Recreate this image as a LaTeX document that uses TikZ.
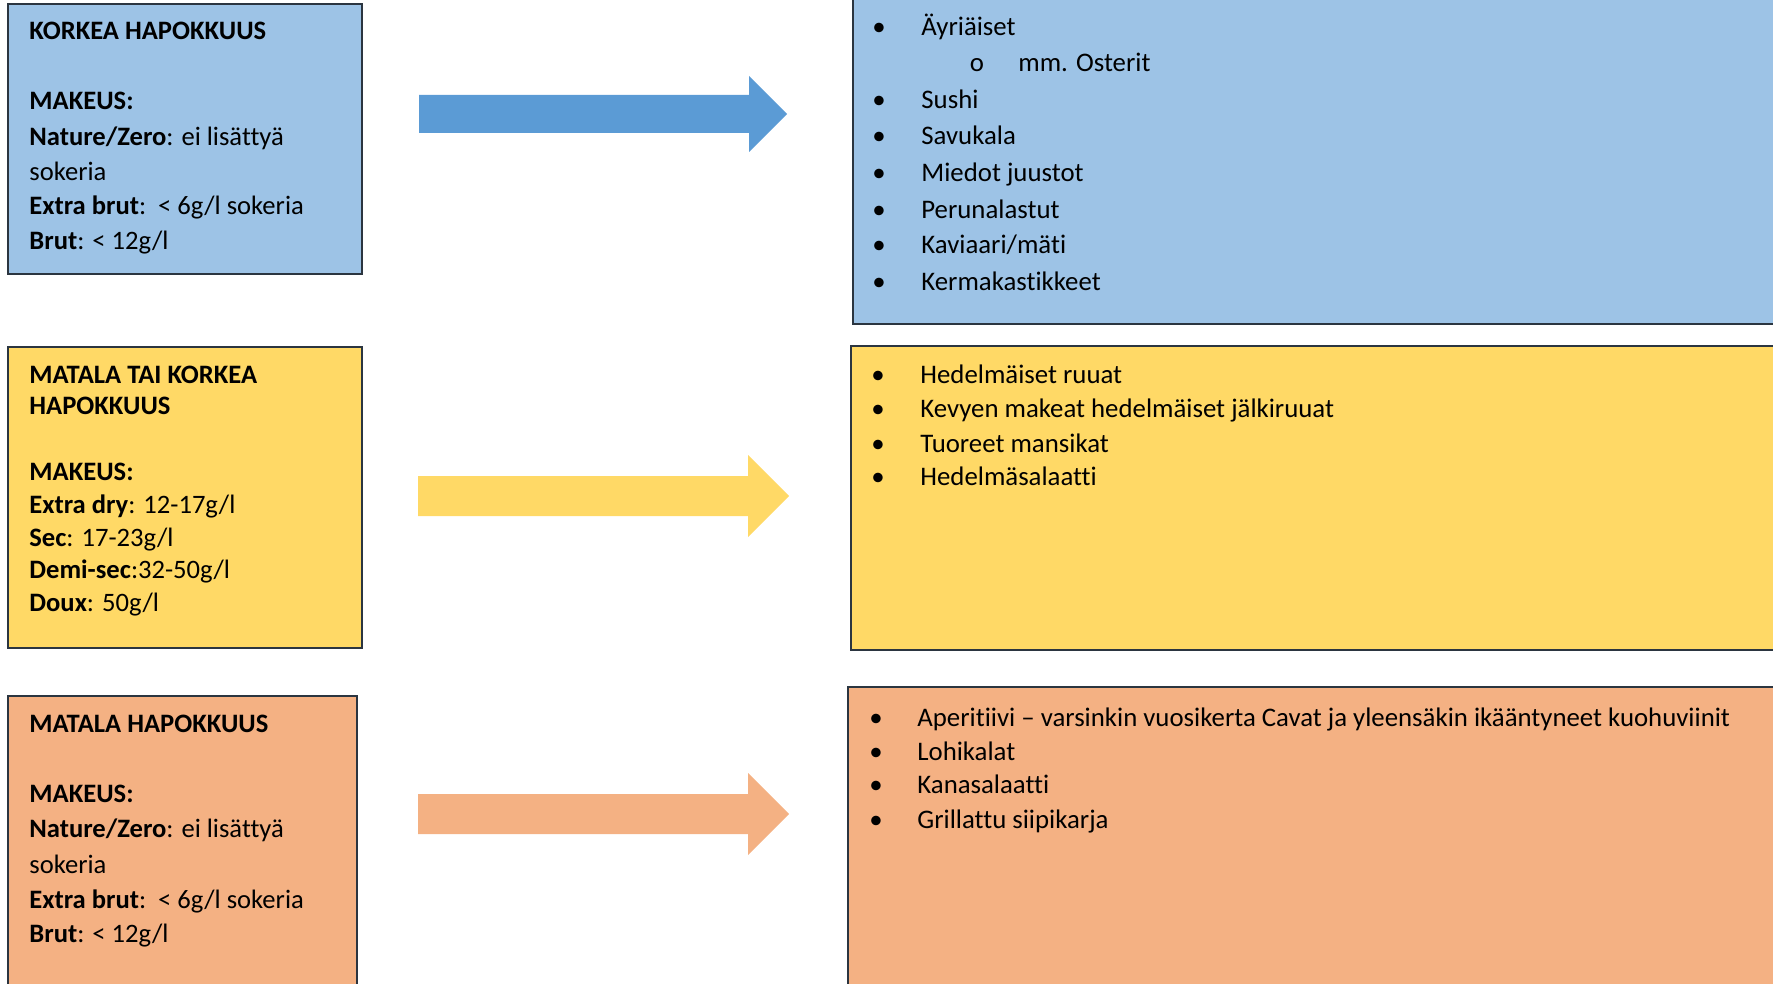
\documentclass[tikz,border=0pt]{standalone}
\usepackage{fontspec}
\setmainfont[Ligatures=NoCommon]{Carlito}
\definecolor{boxblue}{HTML}{9DC3E6}
\definecolor{arrblue}{HTML}{5B9BD5}
\definecolor{boxyel}{HTML}{FFD966}
\definecolor{boxora}{HTML}{F4B183}
\definecolor{boxline}{HTML}{2B3540}
\newcommand{\tline}[4]{\node[txt] (#1) at (#2,#3) {#4};}
\newcommand{\rline}[5]{\node[bul] (#1b) at (#2,#4) {\textbullet};\node[rtxt] (#1) at (#3,#4) {#5};}
\begin{document}
\begin{tikzpicture}[x=0.5pt,y=-0.5pt,
  box/.style={draw=boxline,line width=1pt},
  txt/.style={anchor=base west,inner sep=0pt,font=\fontsize{13.3}{15}\selectfont},
  rtxt/.style={anchor=base west,inner sep=0pt,font=\fontsize{13.4}{15}\selectfont},
  bul/.style={anchor=base,inner sep=0pt,font=\fontsize{13.4}{15}\selectfont}]
\useasboundingbox (0,0) rectangle (1773,984);
\clip (0,0) rectangle (1773,984);
% boxes
\fill[boxblue] (8,4) rectangle (362,274);
\draw[box] (8,4) rectangle (362,274);
\fill[boxyel] (8,347) rectangle (362,648);
\draw[box] (8,347) rectangle (362,648);
\fill[boxora] (8,696) rectangle (357,1000);
\draw[box] (8,696) rectangle (357,1000);
\fill[boxblue] (853,-10) rectangle (1790,324);
\draw[box] (853,-10) rectangle (1790,324);
\fill[boxyel] (851,346) rectangle (1790,650);
\draw[box] (851,346) rectangle (1790,650);
\fill[boxora] (848,687) rectangle (1790,1000);
\draw[box] (848,687) rectangle (1790,1000);
% arrows
\fill[arrblue] (419,95) -- (749,95) -- (749,76) -- (787,114) -- (749,152) -- (749,133) -- (419,133) -- cycle;
\fill[boxyel] (418,476) -- (748,476) -- (748,455) -- (789,496) -- (748,537) -- (748,516) -- (418,516) -- cycle;
\fill[boxora] (418,794) -- (748,794) -- (748,773) -- (789,814) -- (748,855) -- (748,834) -- (418,834) -- cycle;
% left box 1
\tline{a1}{29}{40}{\textbf{KORKEA HAPOKKUUS}}
\tline{a2}{29}{110}{\textbf{MAKEUS:}}
\tline{a3}{29}{146}{\textbf{Nature/Zero}: ei lisättyä}
\tline{a4}{29}{181}{sokeria}
\tline{a5}{29}{215}{\textbf{Extra brut}:\ \ < 6g/l sokeria}
\tline{a6}{29}{250}{\textbf{Brut}: < 12g/l}
% left box 2
\tline{b1}{29}{384}{\textbf{MATALA TAI KORKEA}}
\tline{b2}{29}{415}{\textbf{HAPOKKUUS}}
\tline{b3}{29}{480}{\textbf{MAKEUS:}}
\tline{b4}{29}{513}{\textbf{Extra dry}: 12-17g/l}
\tline{b5}{29}{546}{\textbf{Sec}: 17-23g/l}
\tline{b6}{29}{578}{\textbf{Demi-sec}:32-50g/l}
\tline{b7}{29}{611}{\textbf{Doux}: 50g/l}
% left box 3
\tline{c1}{29}{732}{\textbf{MATALA HAPOKKUUS}}
\tline{c2}{29}{802}{\textbf{MAKEUS:}}
\tline{c3}{29}{837}{\textbf{Nature/Zero}: ei lisättyä}
\tline{c4}{29}{873}{sokeria}
\tline{c5}{29}{908}{\textbf{Extra brut}:\ \ < 6g/l sokeria}
\tline{c6}{29}{942}{\textbf{Brut}: < 12g/l}
% right box 1
\rline{d1}{879}{921}{36}{Äyriäiset}
\node[bul] (d2b) at (977,72) {o};
\node[rtxt] (d2) at (1018,72) {mm. Osterit};
\rline{d3}{879}{921}{109}{Sushi}
\rline{d4}{879}{921}{145}{Savukala}
\rline{d5}{879}{921}{182}{Miedot juustot}
\rline{d6}{879}{921}{219}{Perunalastut}
\rline{d7}{879}{921}{254}{Kaviaari/mäti}
\rline{d8}{879}{921}{291}{Kermakastikkeet}
% right box 2
\rline{e1}{878}{920}{383}{Hedelmäiset ruuat}
\rline{e2}{878}{920}{417}{Kevyen makeat hedelmäiset jälkiruuat}
\rline{e3}{878}{920}{452}{Tuoreet mansikat}
\rline{e4}{878}{920}{485}{Hedelmäsalaatti}
% right box 3
\rline{f1}{876}{917}{726}{Aperitiivi – varsinkin vuosikerta Cavat ja yleensäkin ikääntyneet kuohuviinit}
\rline{f2}{876}{917}{760}{Lohikalat}
\rline{f3}{876}{917}{793}{Kanasalaatti}
\rline{f4}{876}{917}{828}{Grillattu siipikarja}
\end{tikzpicture}
\end{document}
